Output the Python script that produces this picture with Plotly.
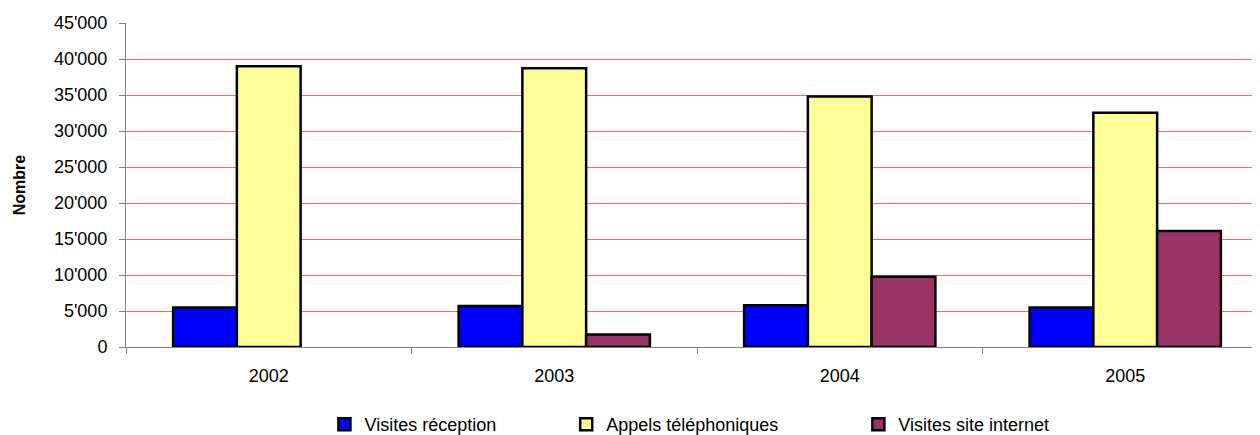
import plotly.graph_objects as go

years = ['2002', '2003', '2004', '2005']
visites_reception = [5500, 5700, 5800, 5500]
appels_telephoniques = [39000, 38700, 34800, 32550]
visites_internet = [None, 1750, 9750, 16100]

series = [
    ('Visites réception', visites_reception, '#0000FF'),
    ('Appels téléphoniques', appels_telephoniques, '#FFFF99'),
    ('Visites site internet', visites_internet, '#993366'),
]
legend_pad = [13, 15, 0]  # nbsp after each legend name, spaces the entries out

fnt = 'Arial, "Liberation Sans", sans-serif'

fig = go.Figure()
for (name, vals, col), n in zip(series, legend_pad):
    fig.add_trace(go.Bar(
        name=name + '\u00a0' * n, x=years, y=vals,
        marker=dict(color=col, line=dict(color='black', width=2.5)),
    ))

# page body has an 8px margin, so shift everything up/left by 8px
fig.update_layout(
    width=1252, height=435,
    margin=dict(l=118, r=0, t=15, b=96),
    plot_bgcolor='white', paper_bgcolor='white',
    barmode='group', bargap=0.33, bargroupgap=0,
    separators=".'",
    font=dict(family=fnt, size=18, color='black'),
    legend=dict(orientation='h', x=0.175, xanchor='left', y=-0.2407, yanchor='middle',
                font=dict(size=18), itemwidth=30),
)
fig.update_xaxes(
    type='category', range=[-0.5, 3.472],
    showline=True, linecolor='#808080', linewidth=1,
    ticks='outside', tickson='boundaries', ticklen=6, tickcolor='#808080',
    showgrid=False, ticklabelstandoff=12, automargin=False,
)
fig.update_yaxes(
    range=[0, 45000], dtick=5000, tickformat=',',
    showline=True, linecolor='#808080', linewidth=1,
    ticks='outside', ticklen=6, tickcolor='#808080',
    showgrid=True, gridcolor='#FF6666', gridwidth=1,
    zeroline=False, ticklabelstandoff=8, automargin=False,
    title=dict(text='<b>Nombre</b>', font=dict(size=16), standoff=24),
)

fig.write_html("out.html")
